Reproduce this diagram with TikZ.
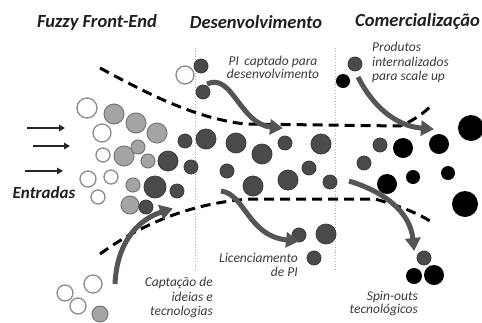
\documentclass[tikz,border=0pt]{standalone}
\usepackage{fontspec}
\setmainfont{Carlito}
\usetikzlibrary{arrows.meta}
\definecolor{wline}{HTML}{8C8C8C}
\definecolor{lfill}{HTML}{A4A4A4}
\definecolor{lline}{HTML}{767676}
\definecolor{dfill}{HTML}{4A4A4A}
\definecolor{dline}{HTML}{3A3A3A}
\definecolor{arrgray}{HTML}{555555}
\definecolor{txtgray}{HTML}{3C3C3C}
\definecolor{divgray}{HTML}{B0B0B0}
\tikzset{
  ball/.style={circle,inner sep=0pt,outer sep=0pt},
  wc/.style={ball,draw=wline,fill=white,line width=1.3pt},
  lc/.style={ball,draw=lline,fill=lfill,line width=1pt},
  dc/.style={ball,draw=dline,fill=dfill,line width=0.8pt},
  bc/.style={ball,fill=black},
  title/.style={font=\fontsize{18.5}{22}\selectfont\bfseries\itshape,text=black!88,inner sep=0pt},
  lab/.style={font=\fontsize{13.5}{14.5}\selectfont\itshape,text=txtgray,inner sep=0pt},
  bigarrow/.style={draw=arrgray,line width=5pt,-{Triangle[length=13pt,width=15pt]},shorten >=-2pt},
  inarrow/.style={draw=black!85,line width=1.5pt,-{Triangle[length=6pt,width=6.5pt]}},
  boundary/.style={draw=black,line width=3pt,dash pattern=on 10pt off 6pt},
  divider/.style={draw=divgray,line width=0.8pt,dotted}
}
\begin{document}
\begin{tikzpicture}[x=1pt,y=-1pt]
\useasboundingbox (0,0) rectangle (482,322);
\fill[white] (0,0) rectangle (482,322);

% titles
\node[title] (t1) at (97,22) {Fuzzy Front-End};
\node[title] (t2) at (256,22) {Desenvolvimento};
\node[title,anchor=west] (t3) at (355,22) {Comercialização};

% dividers
\coordinate (v1a) at (195,48); \coordinate (v1b) at (195,270);
\coordinate (v2a) at (335,48); \coordinate (v2b) at (335,272);
\draw[divider] (v1a) -- (v1b);
\draw[divider] (v2a) -- (v2b);

% funnel boundaries
\draw[boundary] (100,68) .. controls (150,95) and (195,118) .. (245,124)
  -- (400,126) .. controls (415,120) and (425,112) .. (433,104);
\draw[boundary] (100,254) .. controls (140,225) and (190,203) .. (250,199)
  -- (375,199) .. controls (400,206) and (420,214) .. (433,223);

% white circles
\foreach \n/\x/\y/\r in {W1/185/75/9, W2/87/108/10, W3/102/133/9, W4/103/155/7,
  W5/88/179/8, W6/111/177/7, W7/98/197/7, W8/93/284/9, W9/65/293/8, W10/78/306/8}
  \node[wc,minimum size=2*\r pt] (\n) at (\x,\y) {};
% light gray circles
\foreach \n/\x/\y/\r in {L1/114/114/10, L2/136/123/10, L3/157/133/10, L4/124/156/10,
  L5/138/147/7, L6/148/161/7, L7/133/185/7, L8/130/205/9, L9/100/314/8}
  \node[lc,minimum size=2*\r pt] (\n) at (\x,\y) {};
% dark gray circles
\foreach \n/\x/\y/\r in {D1/201/66/7, D2/203/92/7, D3/185/141/7, D4/206/139/10,
  D5/236/143/10, D6/262/154/10, D7/285/143/7, D8/321/144/10, D9/168/161/10,
  D10/191/167/7, D11/227/171/7, D12/155/187/11, D13/177/191/7, D14/146/207/7,
  D15/253/186/10, D16/288/180/10, D17/309/168/7, D18/330/182/7, D19/299/235/7,
  D20/326/234/10, D21/314/258/7, D22/355/64/7, D23/380/145/7, D24/364/163/7,
  D25/424/258/7}
  \node[dc,minimum size=2*\r pt] (\n) at (\x,\y) {};
% black circles
\foreach \n/\x/\y/\r in {B1/343/81/7, B2/471/128/13, B3/439/144/10, B4/403/148/10,
  B5/413/177/7, B6/448/173/7, B7/387/184/10, B8/465/204/13, B9/414/276/8, B10/434/275/10}
  \node[bc,minimum size=2*\r pt] (\n) at (\x,\y) {};

% input arrows
\coordinate (i1s) at (27,128); \coordinate (i1e) at (65,128);
\coordinate (i2s) at (33,146); \coordinate (i2e) at (70,146);
\coordinate (i3s) at (25,171); \coordinate (i3e) at (63,171);
\draw[inarrow] (i1s) -- (i1e);
\draw[inarrow] (i2s) -- (i2e);
\draw[inarrow] (i3s) -- (i3e);
\node[font=\fontsize{17}{20}\selectfont\bfseries\itshape,text=black!88,inner sep=0pt] (ent) at (44,193) {Entradas};

% big gray arrows
\coordinate (a1s) at (207,84);  \coordinate (a1e) at (281,128);
\coordinate (a2s) at (221,191); \coordinate (a2e) at (297,241);
\coordinate (a3s) at (358,77);  \coordinate (a3e) at (432,129);
\coordinate (a4s) at (349,181); \coordinate (a4e) at (414,249);
\coordinate (a5s) at (115,284); \coordinate (a5e) at (171,209);
\draw[bigarrow] (a1s) .. controls (232,72) and (240,124) .. (a1e);
\draw[bigarrow] (a2s) .. controls (245,194) and (248,236) .. (a2e);
\draw[bigarrow] (a3s) .. controls (372,105) and (395,126) .. (a3e);
\draw[bigarrow] (a4s) .. controls (385,192) and (410,212) .. (a4e);
\draw[bigarrow] (a5s) .. controls (117,240) and (140,219) .. (a5e);

% labels
\node[lab,align=center,font=\fontsize{13.5}{13}\selectfont\itshape] (pi) at (273,67) {PI\, captado para\\desenvolvimento};
\node[lab,align=left,anchor=north west] (prod) at (372,42) {Produtos\\internalizados\\para scale up};
\node[lab,align=right,anchor=north east] (lic) at (298,253) {Licenciamento\\de PI};
\node[lab,align=right,anchor=north east] (cap) at (213,277) {Captação de\\ideias e\\tecnologias};
\node[lab,align=right,anchor=north east,font=\fontsize{13.5}{13}\selectfont\itshape] (spin) at (418,291) {Spin-outs\\tecnológicos};
\end{tikzpicture}
\end{document}
